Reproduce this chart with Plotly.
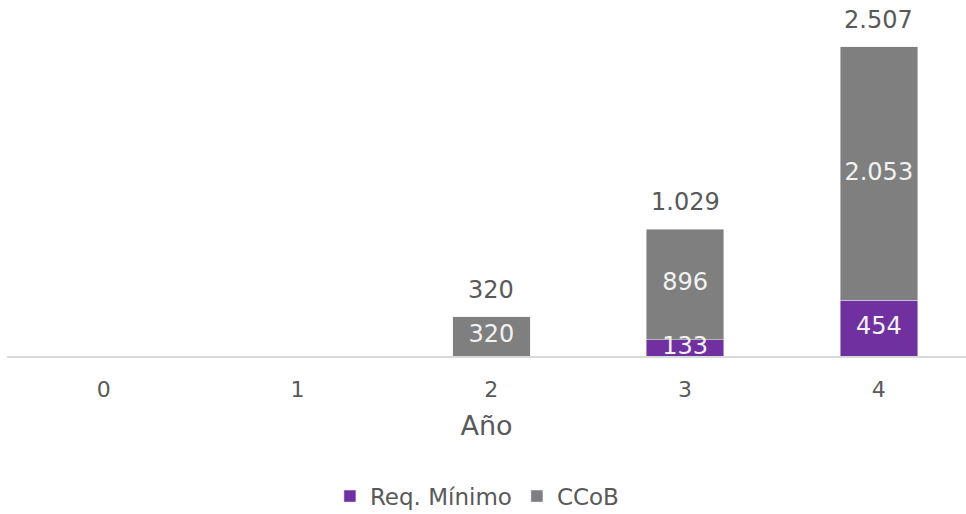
import plotly.graph_objects as go

years = [0, 1, 2, 3, 4]
req_minimo = [0, 0, 0, 133, 454]
ccob = [0, 0, 320, 896, 2053]
totals = [r + c for r, c in zip(req_minimo, ccob)]

def fmt(v):
    return f"{v:,}".replace(",", ".") if v > 0 else ""

FONT = "'DejaVu Sans', sans-serif"
LBL = 24
fig = go.Figure()
fig.add_bar(x=years, y=req_minimo, name="Req. Mínimo", marker_color="#7030A0", width=0.4,
            hoverinfo="skip")
fig.add_bar(x=years, y=ccob, name="CCoB", marker_color="#7F7F7F", width=0.4, hoverinfo="skip")

# labels inside segments
fig.add_scatter(x=years, y=[r / 2 for r in req_minimo], mode="text",
                text=[fmt(v) for v in req_minimo],
                textfont=dict(color="#F2F2F2", size=LBL, family=FONT),
                showlegend=False, hoverinfo="skip", cliponaxis=False)
fig.add_scatter(x=years, y=[r + c / 2 for r, c in zip(req_minimo, ccob)], mode="text",
                text=[fmt(v) for v in ccob],
                textfont=dict(color="#F2F2F2", size=LBL, family=FONT),
                showlegend=False, hoverinfo="skip", cliponaxis=False)

for x, t in zip(years, totals):
    if t > 0:
        fig.add_annotation(x=x, y=t, text=fmt(t), showarrow=False, yshift=27,
                           font=dict(color="#595959", size=LBL, family=FONT))

fig.update_layout(
    barmode="stack", width=966, height=514,
    margin=dict(l=7, r=0, t=10, b=158, autoexpand=False),
    plot_bgcolor="white", paper_bgcolor="white",
    font=dict(family=FONT, color="#595959", size=20),
    xaxis=dict(range=[-0.5, 4.45], tickmode="array", tickvals=years, ticktext=[str(y) for y in years],
               showline=True, linecolor="#D9D9D9", linewidth=2, ticks="outside", ticklen=13,
               tickcolor="rgba(0,0,0,0)", showgrid=False, zeroline=False,
               title=dict(text="Año", font=dict(size=27), standoff=15), tickfont=dict(size=22)),
    yaxis=dict(range=[0, 2807], visible=False, showgrid=False, zeroline=False),
    legend=dict(orientation="h", x=0.49, xanchor="center", y=-0.405, yanchor="middle",
                font=dict(size=23), traceorder="normal", itemwidth=30),
    showlegend=True,
)
fig.write_html("out.html", post_script="document.body.style.margin='0';",
               config={"displayModeBar": False})
